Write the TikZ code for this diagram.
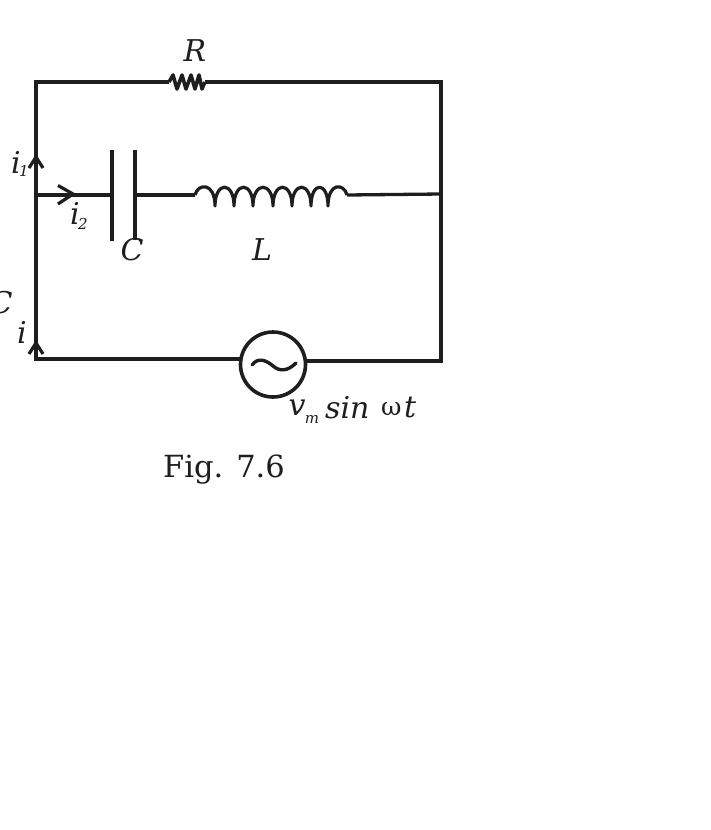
\documentclass[tikz,border=0pt]{standalone}
\usepackage{fontspec}
\setmainfont{DejaVu Serif}
\definecolor{ink}{HTML}{1E1E1E}
\tikzset{
  wire/.style={draw=ink,line width=3.3pt,line cap=butt,line join=miter},
  thick wire/.style={wire,line width=4pt},
  coil/.style={draw=ink,line width=3.2pt,line join=round},
  chevron/.style={draw=ink,line width=3.2pt,line join=miter},
  lbl/.style={inner sep=0pt,text=ink,font=\fontsize{30}{30}\selectfont\itshape},
  sublbl/.style={inner sep=0pt,text=ink,font=\fontsize{15}{15}\selectfont\itshape},
  figcaption/.style={inner sep=0pt,text=ink,font=\fontsize{30.5}{30.5}\selectfont},
  source/.style={circle,draw=ink,line width=3.6pt,minimum size=65pt,inner sep=0pt},
}
\begin{document}
\begin{tikzpicture}[x=1pt,y=-1pt]
\useasboundingbox (0,0) rectangle (710,830);
\fill[white] (0,0) rectangle (710,830);
\coordinate (tl) at (36,82);
\coordinate (tr) at (441,82);
\coordinate (bl) at (36,359);
\coordinate (br) at (441,361);
\coordinate (rin) at (169,82);
\coordinate (rout) at (205,82);
\coordinate (jl) at (36,195);
\coordinate (jr) at (441,194);
\coordinate (capa) at (112,195);
\coordinate (capb) at (135,195);
\coordinate (coila) at (195,195);
\coordinate (coilb) at (347,195);
\coordinate (srcl) at (240,359);
\coordinate (srcr) at (306,361);
\node[source] (src) at (273,364.5) {};
% outer loop
\draw[thick wire] (rin) -- (tl) -- (jl);
\draw[thick wire] (rout) -- (tr) -- (jr);
\draw[wire] (jl) -- (bl) -- (srcl);
\draw[wire] (srcr) -- (br) -- (jr);
\draw[wire] (jl) -- (capa);
\draw[wire] (capb) -- (coila);
\draw[wire] (coilb) -- (jr);
% capacitor
\draw[wire,line width=3.8pt] (112,150) -- (capa) -- (112,241);
\draw[wire,line width=3.8pt] (135,150) -- (capb) -- (135,240);
% resistor
\draw[coil,line width=3.6pt] (rin) -- (173,75) -- (177,89) -- (182,75) -- (186,89) -- (191,75) -- (195,89) -- (199,75) -- (202,89) -- (rout);
% inductor
\draw[coil] (coila) .. controls (198,183) and (215,182) .. (215,206)
  .. controls (215,181) and (234,181) .. (234,206)
  .. controls (234,181) and (253,181) .. (253,206)
  .. controls (253,181) and (273,181) .. (273,206)
  .. controls (273,181) and (292,181) .. (292,206)
  .. controls (292,181) and (311,181) .. (311,206)
  .. controls (311,181) and (328,181) .. (328,206)
  .. controls (328,182) and (344,183) .. (coilb);
% source wave
\draw[coil,line width=3.4pt,line cap=round] (252,365) .. controls (258,357) and (266,360) .. (273,366) .. controls (280,372) and (288,371) .. (296,363);
% arrows
\coordinate (ta) at (36,343);
\coordinate (tb) at (36,157);
\coordinate (tc) at (73,194);
\draw[chevron] (29,354) -- (ta) -- (43,354);
\draw[chevron] (29,168) -- (tb) -- (43,168);
\draw[chevron] (58,185.5) -- (tc) -- (58,204);
% labels
\node[lbl] (lr) at (195,51) {R};
\node[lbl] (li1) at (16,162) {i};
\node[sublbl] (li1s) at (24,171) {1};
\node[lbl] (li2) at (75,213) {i};
\node[sublbl] (li2s) at (83,224) {2};
\node[lbl] (lc) at (132,250) {C};
\node[lbl] (ll) at (262,250) {L};
\node[lbl] (lcc) at (1,303) {C};
\node[lbl] (li) at (22,332) {i};
\node[lbl] (lv) at (297,408) {v};
\node[sublbl] (lm) at (312,419) {m};
\node[lbl,anchor=west] (ls) at (325,408) {sin};
\node[lbl,font=\fontsize{25}{25}\selectfont,anchor=west] (lw) at (381,409) {ω};
\node[lbl,anchor=west] (lt) at (404,408) {t};
\node[figcaption] (fig) at (224,470) {Fig. 7.6};
\end{tikzpicture}
\end{document}
